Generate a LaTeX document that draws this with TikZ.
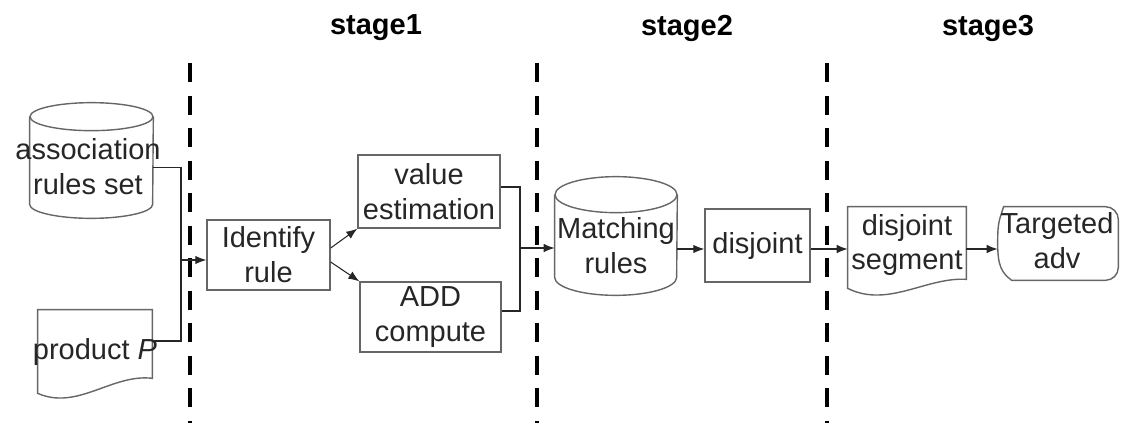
\documentclass[tikz,border=0pt]{standalone}
\usepackage{fontspec}
\setmainfont{Liberation Sans}
\usetikzlibrary{arrows.meta}

\begin{document}
\begin{tikzpicture}
[
    x=0.02cm, y=-0.02cm,
    txt/.style={align=center, font=\fontsize{16.5}{19.8}\selectfont, text=black!85, inner sep=0pt},
    stagelabel/.style={font=\fontsize{16.5}{19.8}\selectfont\bfseries, inner sep=0pt},
    area/.style={draw=none, inner sep=0pt},
    proc/.style={draw=black!60, line width=0.8pt, inner sep=0pt},
    frame/.style={draw=black!60, line width=0.8pt},
    wire/.style={draw=black!85, line width=0.6pt},
    flow/.style={wire, -{Latex[length=2.2mm,width=1.7mm]}},
    divider/.style={line width=2.8pt, dash pattern=on 11pt off 7.5pt},
]
\useasboundingbox (0,0) rectangle (1125,423);

% stages
\node [stagelabel] (s1) at (376,28) {stage1};
\node [stagelabel] (s2) at (687,28) {stage2};
\node [stagelabel] (s3) at (988,28) {stage3};
\foreach \xx in {190,537,827}
    \draw [divider] (\xx,63) -- (\xx,423);

% inputs
\node [area, minimum width=2.46cm, minimum height=2.3cm] (assoc) at (91.5,160.5) {};
\draw [frame] ([yshift=-0.28cm]assoc.north west) -- ([yshift=0.28cm]assoc.south west)
    arc [start angle=180, end angle=360, x radius=1.23cm, y radius=0.28cm]
    -- ([yshift=-0.28cm]assoc.north east);
\draw [frame] ([yshift=-0.28cm]assoc.north) ellipse [x radius=1.23cm, y radius=0.28cm];
\node [txt] (assoctxt) at (88,167) {association\\rules set};

\node [area, minimum width=2.28cm, minimum height=1.66cm] (product) at (95,351.5) {};
\draw [frame] (product.north west) -- (product.north east) -- ([yshift=0.3cm]product.south east)
    .. controls +(-0.8cm,0.1cm) and +(0.8cm,-0.35cm) .. (product.south west) -- cycle;
\node [txt] (producttxt) at (95,352) {product \textit{P}};

% stage 1
\node [proc, minimum width=2.46cm, minimum height=1.4cm] (identify) at (268.5,255) {};
\node [txt] at (identify.center) {Identify\\rule};
\node [proc, minimum width=2.84cm, minimum height=1.46cm] (value) at (429,191.5) {};
\node [txt] at (value.center) {value\\estimation};
\node [proc, minimum width=2.82cm, minimum height=1.4cm] (add) at (430.5,317) {};
\node [txt] at (add.center) {ADD\\compute};

% stage 2
\node [area, minimum width=2.44cm, minimum height=2.36cm] (matching) at (616,236) {};
\draw [frame] ([yshift=-0.36cm]matching.north west) -- ([yshift=0.36cm]matching.south west)
    arc [start angle=180, end angle=360, x radius=1.22cm, y radius=0.36cm]
    -- ([yshift=-0.36cm]matching.north east);
\draw [frame] ([yshift=-0.36cm]matching.north) ellipse [x radius=1.22cm, y radius=0.36cm];
\node [txt] at (616,246) {Matching\\rules};
\node [proc, minimum width=2.1cm, minimum height=1.46cm] (disjoint) at (757.5,245.5) {};
\node [txt] at (disjoint.center) {disjoint};

% stage 3
\node [area, minimum width=2.36cm, minimum height=1.62cm] (segment) at (907,247.5) {};
\draw [frame] (segment.north west) -- (segment.north east) -- ([yshift=0.18cm]segment.south east)
    .. controls +(-0.8cm,0.05cm) and +(0.8cm,-0.4cm) .. (segment.south west) -- cycle;
\node [txt] at (907,245) {disjoint\\segment};
\node [area, minimum width=2.4cm, minimum height=1.46cm] (target) at (1058,243.5) {};
\draw [frame] ([xshift=0.12cm]target.north west) -- ([xshift=-0.26cm]target.north east)
    arc [start angle=90, end angle=0, radius=0.26cm]
    -- ([yshift=0.26cm]target.south east)
    arc [start angle=0, end angle=-90, radius=0.26cm]
    -- ([xshift=0.28cm]target.south west)
    .. controls +(-0.2cm,0.15cm) and +(0cm,-0.45cm) .. (target.west)
    .. controls +(0cm,0.4cm) and +(-0.1cm,-0.3cm) .. cycle;
\node [txt] at (1057,241) {Targeted\\adv};

% connectors
\coordinate (join1) at (181,260);
\coordinate (join2) at (520,248);
\coordinate (mainline) at (0,249);
\draw [wire] ([yshift=-0.14cm]assoc.east) -| (join1);
\draw [wire] ([yshift=0.21cm]product.east) -| (join1);
\draw [flow] (join1) -- (join1 -| identify.west);
\draw [flow] ([yshift=0.14cm]identify.east) -- (value.south west);
\draw [flow] ([yshift=-0.14cm]identify.east) -- (add.north west);
\draw [wire] ([yshift=0.09cm]value.east) -| (join2);
\draw [wire] ([yshift=0.12cm]add.east) -| (join2);
\draw [flow] (join2) -- (join2 -| matching.west);
\draw [flow] (mainline -| matching.east) -- (mainline -| disjoint.west);
\draw [flow] (mainline -| disjoint.east) -- (mainline -| segment.west);
\draw [flow] (mainline -| segment.east) -- (mainline -| target.west);
\end{tikzpicture}
\end{document}
